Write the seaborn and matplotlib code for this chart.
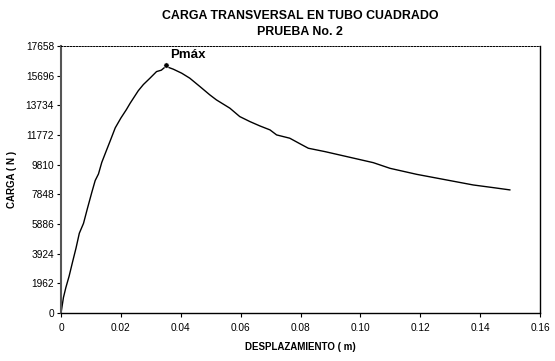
import numpy as np
import pandas as pd
import matplotlib
matplotlib.use("Agg")
import matplotlib.pyplot as plt
import seaborn as sns

# desplazamiento (m) vs carga (N)
desplazamiento = [0.0, 0.0008, 0.0016, 0.0027, 0.0039, 0.0050, 0.0061, 0.0075,
                  0.0088, 0.0103, 0.0114, 0.0125, 0.0136, 0.0151, 0.0164, 0.0181,
                  0.0200, 0.0218, 0.0231, 0.0258, 0.0275, 0.0297, 0.0319, 0.0335,
                  0.0350, 0.0375, 0.0403, 0.0430, 0.0464, 0.0497, 0.0519, 0.0564,
                  0.0597, 0.0631, 0.0664, 0.0698, 0.0720, 0.0764, 0.0799, 0.0826,
                  0.0882, 0.0965, 0.1043, 0.1099, 0.1188, 0.1288, 0.1377, 0.1444,
                  0.1500]
carga = [0, 1023, 1677, 2439, 3419, 4290, 5270, 5923,
         6903, 7992, 8754, 9190, 9952, 10714, 11367, 12238,
         12891, 13436, 13871, 14692, 15100, 15521, 15957, 16050,
         16300, 16115, 15851, 15521, 14966, 14417, 14086, 13537,
         12982, 12651, 12366, 12102, 11771, 11553, 11176, 10890,
         10665, 10290, 9937, 9562, 9165, 8793, 8462, 8286,
         8134]

x_ticks = [0, 0.02, 0.04, 0.06, 0.08, 0.10, 0.12, 0.14, 0.16]
x_labels = ["0", "0.02", "0.04", "0.06", "0.08", "0.10", "0.12", "0.14", "0.16"]
y_ticks = [0, 1962, 3924, 5886, 7848, 9810, 11772, 13734, 15696, 17658]

df = pd.DataFrame({"desplazamiento": desplazamiento, "carga": carga})
pico = df.loc[df["carga"].idxmax()]

sns.set_style("white")
plt.rcParams["font.family"] = ["Liberation Sans", "DejaVu Sans"]
plt.rcParams["text.color"] = "black"
plt.rcParams["axes.labelcolor"] = "black"
plt.rcParams["xtick.color"] = "black"
plt.rcParams["ytick.color"] = "black"

fig = plt.figure(figsize=(5.55, 3.61), dpi=100)
ax = fig.add_axes([0.110, 0.133, 0.863, 0.740])

sns.lineplot(data=df, x="desplazamiento", y="carga", ax=ax, color="black", linewidth=1.0)
sns.scatterplot(x=[pico["desplazamiento"]], y=[pico["carga"] + 120], ax=ax,
                color="black", s=14, zorder=5)
ax.annotate("Pmáx", (pico["desplazamiento"], pico["carga"]), xytext=(3, 6),
            textcoords="offset points", fontsize=9.5, fontweight="bold")

ax.set_xlim(0, 0.16)
ax.set_ylim(0, 17658)
ax.set_xticks(x_ticks)
ax.set_xticklabels(x_labels)
ax.set_yticks(y_ticks)
ax.tick_params(axis="both", labelsize=7.3, length=3, width=0.8, color="black",
               labelcolor="black", direction="out", bottom=True, left=True, pad=2)
ax.tick_params(axis="x", pad=4)

ax.set_xlabel("DESPLAZAMIENTO ( m)", fontsize=7, fontweight="bold", labelpad=7)
ax.set_ylabel("CARGA ( N )", fontsize=7, fontweight="bold", labelpad=6)

for side in ["left", "bottom", "right"]:
    ax.spines[side].set_color("black")
    ax.spines[side].set_linewidth(1.0)
ax.spines["left"].set_color("#555555")
ax.spines["left"].set_linewidth(1.5)
ax.spines["top"].set_color("black")
ax.spines["top"].set_linewidth(0.7)
ax.spines["top"].set_linestyle((0, (1.5, 1.5)))

fig.text(0.541, 0.955, "CARGA TRANSVERSAL EN TUBO CUADRADO", ha="center", va="center",
         fontsize=8.9, fontweight="bold")
fig.text(0.541, 0.912, "PRUEBA No. 2", ha="center", va="center",
         fontsize=8.9, fontweight="bold")

fig.savefig("out.png", dpi=100, facecolor="white")
